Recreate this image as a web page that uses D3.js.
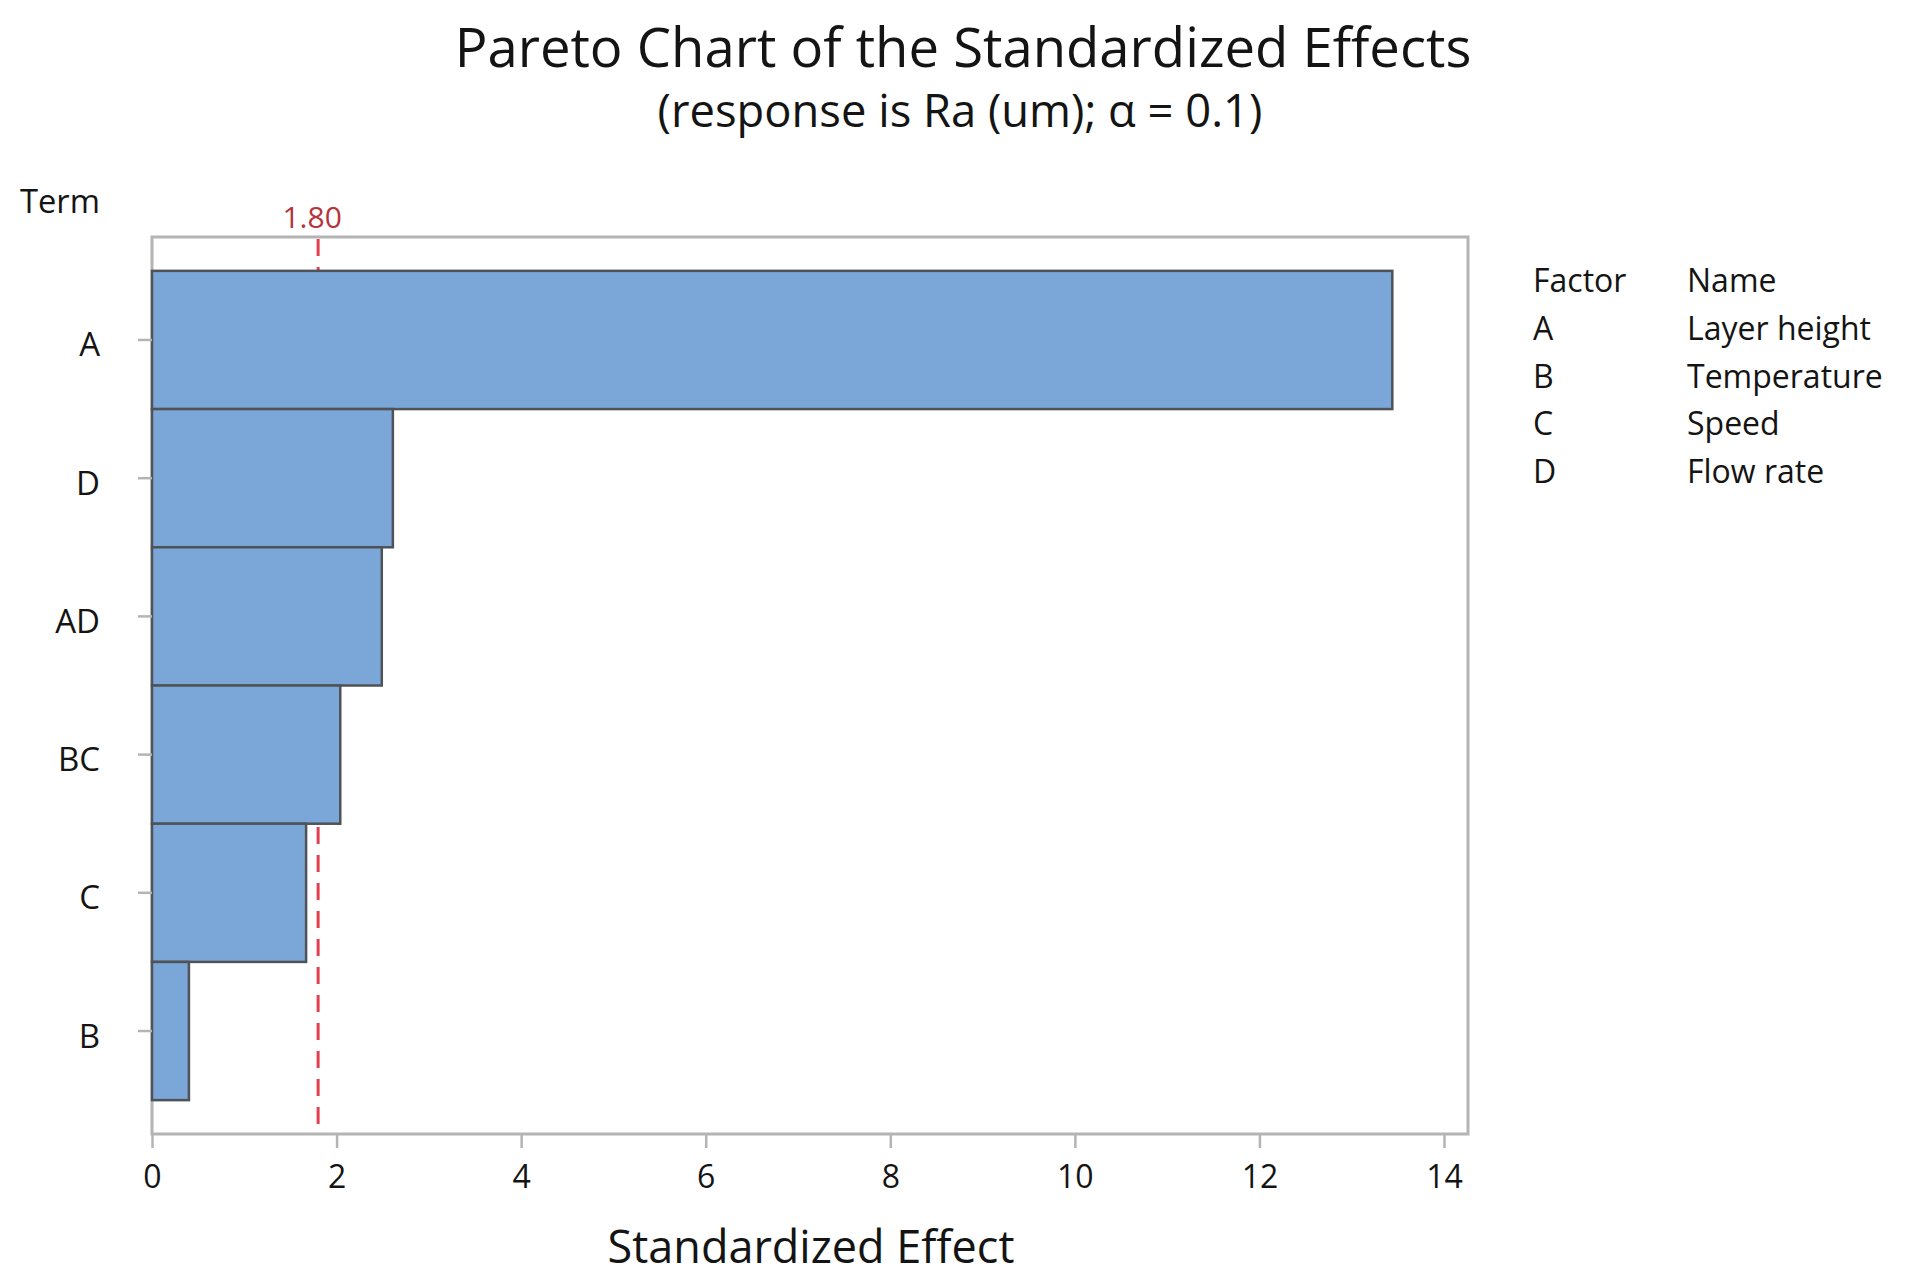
<!DOCTYPE html>
<html>
<head>
  <meta charset='utf-8'>
  <title>Pareto Chart of the Standardized Effects</title>
  <script src="https://cdn.jsdelivr.net/npm/d3@7"></script>
  <style>
    body { margin: 0; background: #fff; }
    text { font-family: "Open Sans", "Noto Sans", sans-serif; fill: #141414; }
    .lbl { font-weight: 500; }
  </style>
</head>
<body>
  <svg width="1922" height="1284" id="chart"></svg>
  <script>

    // terms in pareto order, with their standardized effects
    const terms = ["A", "D", "AD", "BC", "C", "B"];
    const effects = [13.44, 2.61, 2.49, 2.04, 1.67, 0.40];
    const critical = 1.80;
    const xTicks = [0, 2, 4, 6, 8, 10, 12, 14];

    const factors = ["A", "B", "C", "D"];
    const factorNames = ["Layer height", "Temperature", "Speed", "Flow rate"];

    const data = terms.map((t, i) => ({ term: t, value: effects[i] }));

    const frame = { left: 152, right: 1468, top: 237, bottom: 1134 };

    const svg = d3.select('#chart');

    const x = d3.scaleLinear()
      .domain([0, 14])
      .range([frame.left, 1444]);

    const y = d3.scaleBand()
      .domain(terms)
      .range([frame.top, frame.bottom])
      .paddingInner(0)
      .paddingOuter(0.245);

    // shrink a text until it is as wide as the reference
    function fit(sel, width) {
      const node = sel.node();
      const fs = parseFloat(sel.attr('font-size'));
      const w = node.getComputedTextLength();
      sel.attr('font-size', fs * width / w);
    }

    // titles
    svg.append('text')
      .attr('x', 963).attr('y', 67)
      .attr('text-anchor', 'middle')
      .attr('font-size', 54)
      .text('Pareto Chart of the Standardized Effects')
      .call(fit, 1017);

    svg.append('text')
      .attr('x', 960).attr('y', 127)
      .attr('text-anchor', 'middle')
      .attr('font-size', 40)
      .text('(response is Ra (um); α = 0.1)')
      .call(fit, 605);

    // frame
    svg.append('rect')
      .attr('x', frame.left).attr('y', frame.top)
      .attr('width', frame.right - frame.left)
      .attr('height', frame.bottom - frame.top)
      .attr('fill', 'none')
      .attr('stroke', '#b4b4b4')
      .attr('stroke-width', 3);

    // reference line (sits behind the bars)
    svg.append('line')
      .attr('x1', x(critical)).attr('x2', x(critical))
      .attr('y1', frame.top + 2).attr('y2', frame.bottom)
      .attr('stroke', '#e2404e')
      .attr('stroke-width', 3)
      .attr('stroke-dasharray', '17,11');

    svg.append('text')
      .classed('lbl', true)
      .attr('x', x(critical) - 6).attr('y', 228)
      .attr('text-anchor', 'middle')
      .attr('font-size', 30)
      .style('fill', '#b5343a')
      .text(d3.format('.2f')(critical));

    // bars
    svg.selectAll('.bar')
      .data(data)
      .join('rect')
      .classed('bar', true)
      .attr('x', x(0))
      .attr('y', d => y(d.term))
      .attr('width', d => x(d.value) - x(0))
      .attr('height', y.bandwidth())
      .attr('fill', '#7ba6d8')
      .attr('stroke', '#4f5357')
      .attr('stroke-width', 2.5);

    // x axis
    const xAxis = svg.append('g')
      .attr('transform', `translate(0,${frame.bottom})`)
      .call(d3.axisBottom(x).tickValues(xTicks).tickSize(14).tickPadding(17));
    xAxis.select('.domain').remove();
    xAxis.selectAll('line').attr('stroke', '#b4b4b4').attr('stroke-width', 2.5);
    xAxis.selectAll('text')
      .classed('lbl', true)
      .attr('font-size', 32)
      .attr('fill', '#141414')
      .style('font-family', '"Open Sans", sans-serif');

    // y axis
    const yAxis = svg.append('g')
      .attr('transform', `translate(${frame.left},0)`)
      .call(d3.axisLeft(y).tickSize(14).tickPadding(38));
    yAxis.select('.domain').remove();
    yAxis.selectAll('line').attr('stroke', '#b4b4b4').attr('stroke-width', 2.5);
    yAxis.selectAll('text')
      .classed('lbl', true)
      .attr('font-size', 33)
      .attr('dy', '0.5em')
      .attr('fill', '#141414')
      .style('font-family', '"Open Sans", sans-serif');

    svg.append('text')
      .attr('x', 811).attr('y', 1263)
      .attr('text-anchor', 'middle')
      .attr('font-size', 46)
      .text('Standardized Effect')
      .call(fit, 407);

    svg.append('text')
      .classed('lbl', true)
      .attr('x', 20).attr('y', 213)
      .attr('font-size', 31)
      .text('Term')
      .call(fit, 80);

    // factor legend
    const row = d3.scalePoint()
      .domain(['head'].concat(factors))
      .range([292, 483]);

    svg.append('text').classed('lbl', true)
      .attr('x', 1533).attr('y', row('head'))
      .attr('font-size', 32).text('Factor');
    svg.append('text').classed('lbl', true)
      .attr('x', 1687).attr('y', row('head'))
      .attr('font-size', 32).text('Name');

    svg.selectAll('.factor')
      .data(factors)
      .join('text')
      .classed('factor lbl', true)
      .attr('x', 1533)
      .attr('y', d => row(d))
      .attr('font-size', 32)
      .text(d => d);

    svg.selectAll('.fname')
      .data(factorNames)
      .join('text')
      .classed('fname lbl', true)
      .attr('x', 1687)
      .attr('y', (d, i) => row(factors[i]))
      .attr('font-size', 32)
      .text(d => d);

  </script>
</body>
</html>
